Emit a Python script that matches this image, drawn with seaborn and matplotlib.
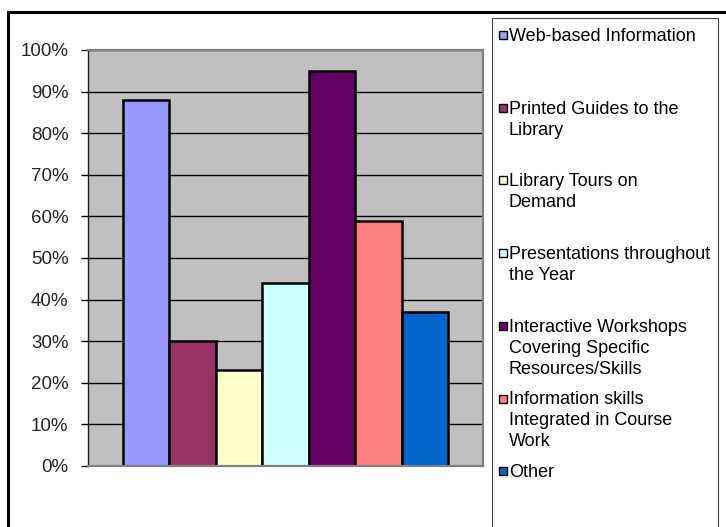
import pandas as pd
import numpy as np
import matplotlib
matplotlib.use("Agg")
import matplotlib.pyplot as plt
import seaborn as sns
from matplotlib.patches import Rectangle
from matplotlib.ticker import PercentFormatter

sns.set_style("white")
plt.rcParams['font.family'] = ['Liberation Sans', 'DejaVu Sans']

# data
items = ["Web-based Information",
         "Printed Guides to the\nLibrary",
         "Library Tours on\nDemand",
         "Presentations throughout\nthe Year",
         "Interactive Workshops\nCovering Specific\nResources/Skills",
         "Information skills\nIntegrated in Course\nWork",
         "Other"]
values = [0.88, 0.30, 0.23, 0.44, 0.95, 0.59, 0.37]
colors = ["#9999FF", "#993366", "#FFFFCC", "#CCFFFF", "#660066", "#FF8080", "#0066CC"]
yticks = np.arange(0, 1.01, 0.1)

df = pd.DataFrame({"group": [""] * len(items), "item": items, "pct": values})

W, H = 726, 527
fig = plt.figure(figsize=(W / 100, H / 100), dpi=100)
fig.patch.set_facecolor("white")

# plot area in pixels: x 88..483, y 50..466
ax = fig.add_axes([88 / W, 1 - 466 / H, (483 - 88) / W, (466 - 50) / H])
ax.set_facecolor("#C0C0C0")
ax.set_axisbelow(True)
ax.yaxis.grid(True, color="black", linewidth=1.0)

sns.barplot(data=df, x="group", y="pct", hue="item", hue_order=items,
            palette=colors, saturation=1, width=0.825, gap=0,
            edgecolor="black", linewidth=1.8, legend=False, ax=ax)

ax.set_xlim(-0.5, 0.5)
ax.set_ylim(0, 1)
ax.set_yticks(yticks)
ax.yaxis.set_major_formatter(PercentFormatter(1.0, decimals=0))
ax.set_xticks([])
ax.set_xlabel("")
ax.set_ylabel("")
ax.tick_params(axis="y", direction="out", length=5, width=1, color="black",
               pad=9, labelsize=13.5, left=True)

for side in ["top", "right", "bottom"]:
    ax.spines[side].set_color("#808080")
    ax.spines[side].set_linewidth(1.6)
ax.spines["left"].set_color("#202020")
ax.spines["left"].set_linewidth(1.0)

# outer chart border (cut off at the right and bottom edges)
fig.patches.append(Rectangle((8 / W, -0.05), 1.1, 1.05 - 12 / H, transform=fig.transFigure,
                             fill=False, edgecolor="black", linewidth=2.2, clip_on=False))

# legend box
fig.patches.append(Rectangle((492 / W, -0.05), (718 - 492) / W, 1.05 - 18 / H,
                             transform=fig.transFigure, fill=False,
                             edgecolor="#404040", linewidth=0.8, clip_on=False))

for i, (lab, col) in enumerate(zip(items, colors)):
    yc = 35 + i * 72.7
    fig.patches.append(Rectangle((499 / W, 1 - (yc + 4) / H), 8 / W, 8 / H,
                                 transform=fig.transFigure, facecolor=col,
                                 edgecolor="black", linewidth=1.0))
    fig.text(509 / W, 1 - (yc - 7) / H, lab, ha="left", va="top",
             fontsize=13, linespacing=1.3, color="black")

fig.savefig("out.png", dpi=100)
